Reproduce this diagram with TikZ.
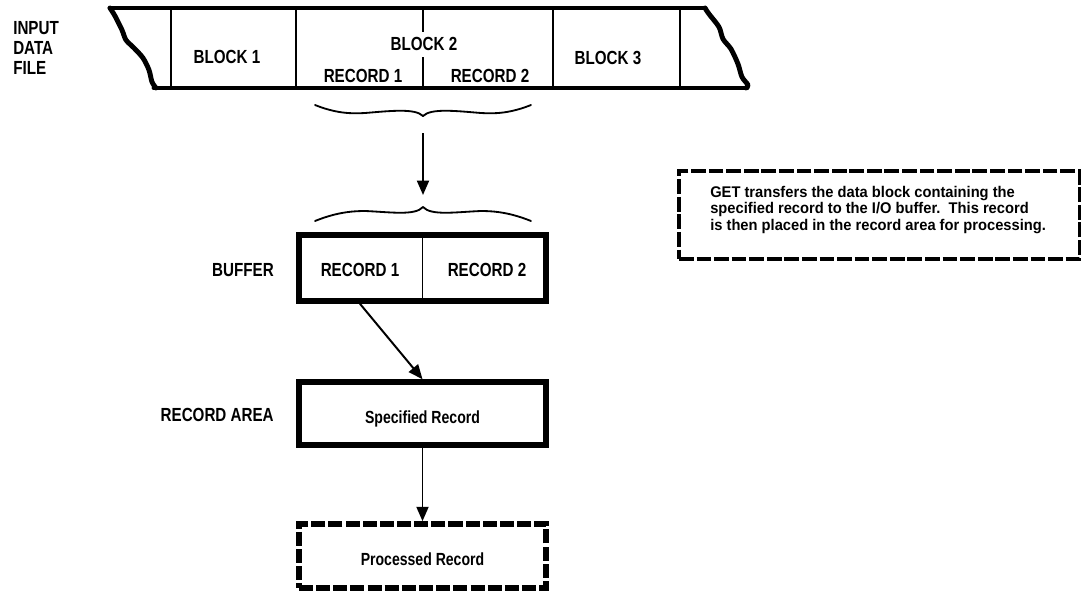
\documentclass[tikz,border=0pt]{standalone}
\usepackage{fontspec}
\setmainfont[FakeStretch=0.8]{Liberation Sans}
\newfontfamily\notefont[FakeStretch=0.95]{Liberation Sans}
\usetikzlibrary{positioning}
\usetikzlibrary{arrows.meta}

\tikzset{
	lbl/.style = {font=\fontsize{13.5}{14.2}\selectfont\bfseries, inner sep=0pt},
	thinline/.style = {line width=0.8pt},
	tapeedge/.style = {line width=3.5pt, line join=round, line cap=round},
	recbox/.style = {draw, line width=4pt, minimum width=6.175cm, inner sep=0pt, text height=14pt, text depth=0pt, font=\fontsize{12.5}{14}\selectfont\bfseries},
	procbox/.style = {recbox, dash pattern=on 10pt off 2.2pt},
	bracestroke/.style = {line width=1.3pt, line cap=round},
	arr/.style = {line width=1.4pt, -{Triangle[length=0.36cm,width=0.3cm]}},
}

\begin{document}
\begin{tikzpicture}[x=0.025cm, y=-0.025cm]
	\useasboundingbox (0,0) rectangle (1081,592);
	% input file tape
	\node[lbl, anchor=west, align=left] (infile) at (13,48) {INPUT\\DATA\\FILE};
	\draw[tapeedge] (110,8) -- (705,8);
	\draw[tapeedge] (154,88) -- (747,88);
	\draw[tapeedge] plot[smooth] coordinates {(110,8) (115,16) (122,30) (126,40) (134,48) (143,58) (149,70) (152,82) (156,88)};
	\draw[tapeedge] plot[smooth] coordinates {(705,8) (709,14) (719,27) (723,39) (731,49) (738,64) (742,77) (748,85) (746,88)};
	\foreach \x in {171,296,553,680}
		\draw[thinline] (\x,8) -- (\x,88);
	\draw[thinline] (423,8) -- (423,32) (423,57) -- (423,88);
	\node[lbl] (blk1) at (227,57) {BLOCK 1};
	\node[lbl] (blk2) at (424,44) {BLOCK 2};
	\node[lbl] (trec1) at (363,76) {RECORD 1};
	\node[lbl] (trec2) at (490,76) {RECORD 2};
	\node[lbl] (blk3) at (608,58) {BLOCK 3};
	% braces and transfer
	\coordinate (tipA) at (423,116);
	\coordinate (tipB) at (423,207);
	\draw[bracestroke] (315,105) .. controls (335,113) and (350,114) .. (365,113) .. controls (390,111) and (415,108) .. (tipA);
	\draw[bracestroke] (531,105) .. controls (511,113) and (496,114) .. (481,113) .. controls (456,111) and (431,108) .. (tipA);
	\draw[bracestroke] (315,221) .. controls (335,213) and (350,211) .. (365,211) .. controls (390,212) and (415,216) .. (tipB);
	\draw[bracestroke] (531,221) .. controls (511,213) and (496,211) .. (481,211) .. controls (456,212) and (431,216) .. (tipB);
	\draw[arr, shorten <=0.43cm, shorten >=0.3cm] (tipA) -- (tipB);
	% buffer
	\node[recbox, minimum height=1.65cm] (buffer) at (422.5,268) {};
	\draw[thinline] (buffer.north) -- (buffer.south);
	\node[lbl] (rec1) at (360,270) {RECORD 1};
	\node[lbl] (rec2) at (487,270) {RECORD 2};
	\node[lbl, anchor=east] (buflbl) at (274,270) {BUFFER};
	% record area
	\node[recbox, minimum height=1.575cm] (spec) at (422.5,413.5) {Specified Record};
	\node[lbl, anchor=east] (arealbl) at (274,415) {RECORD AREA};
	\node[procbox, minimum height=1.6cm] (proc) at (422.5,556) {Processed Record};
	\draw[arr] (rec1 |- buffer.south) -- (spec.north);
	\draw[arr] (spec.south) -- (proc.north);
	% note
	\node[draw, line width=2.2pt, dash pattern=on 10.5pt off 2pt, minimum width=10cm, minimum height=2.2cm] (notebox) at (879,215) {};
	\node[anchor=west, align=left, inner sep=0pt, font=\notefont\fontsize{11}{11.8}\selectfont\bfseries] (note) at (710,210) {GET transfers the data block containing the\\specified record to the I/O buffer.\ \ This record\\is then placed in the record area for processing.};
\end{tikzpicture}
\end{document}
